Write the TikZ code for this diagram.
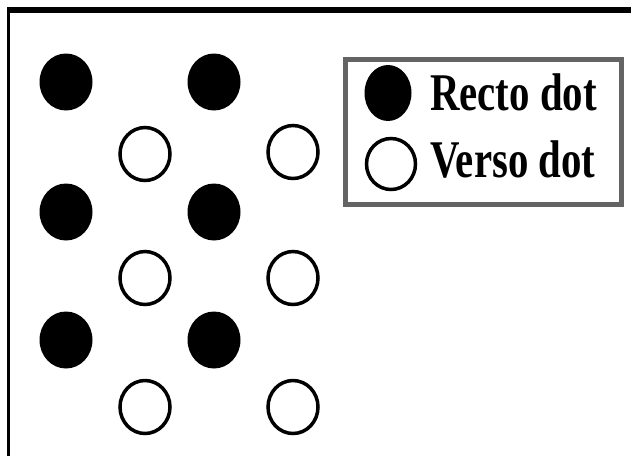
\documentclass[tikz,border=0pt]{standalone}
\usepackage{fontspec}
\setmainfont{Liberation Serif}
\usetikzlibrary{shapes.geometric}
\definecolor{boxgray}{RGB}{100,100,100}
\tikzset{
  recto/.style={ellipse, fill=black, inner sep=0pt, minimum width=53pt, minimum height=57pt},
  verso/.style={ellipse, draw=black, line width=3.5pt, fill=white, inner sep=0pt, minimum width=50pt, minimum height=53pt},
  legrecto/.style={ellipse, fill=black, inner sep=0pt, minimum width=47pt, minimum height=56pt},
  legverso/.style={ellipse, draw=black, line width=3.5pt, inner sep=0pt, minimum width=49pt, minimum height=51pt},
  legtext/.style={anchor=base west, inner sep=0pt, font=\fontsize{53}{60}\selectfont\bfseries},
  legbox/.style={draw=boxgray, line width=5pt}
}
\begin{document}
\begin{tikzpicture}[x=1pt,y=-1pt]
\useasboundingbox (0,0) rectangle (631,456);
% frame
\fill[black] (7,7) rectangle (631,13);
\fill[black] (7,7) rectangle (9.5,456);
% dots
\node[recto] (r1) at (66,82) {};
\node[recto] (r2) at (214,82) {};
\node[recto] (r3) at (66,212) {};
\node[recto] (r4) at (214,212) {};
\node[recto] (r5) at (66,340) {};
\node[recto] (r6) at (214,340) {};
\node[verso] (v1) at (145,154) {};
\node[verso] (v2) at (293,152) {};
\node[verso] (v3) at (145,278) {};
\node[verso] (v4) at (293,278) {};
\node[verso] (v5) at (145,407) {};
\node[verso] (v6) at (293,407) {};
% legend
\draw[legbox] (345,59) rectangle (621,204);
\node[legrecto] (lr) at (388,93) {};
\node[legverso] (lv) at (391,164) {};
\node[legtext] (tr) at (430,110) {\scalebox{0.77}[1]{Recto dot}};
\node[legtext] (tv) at (430,177) {\scalebox{0.77}[1]{Verso dot}};
\end{tikzpicture}
\end{document}
